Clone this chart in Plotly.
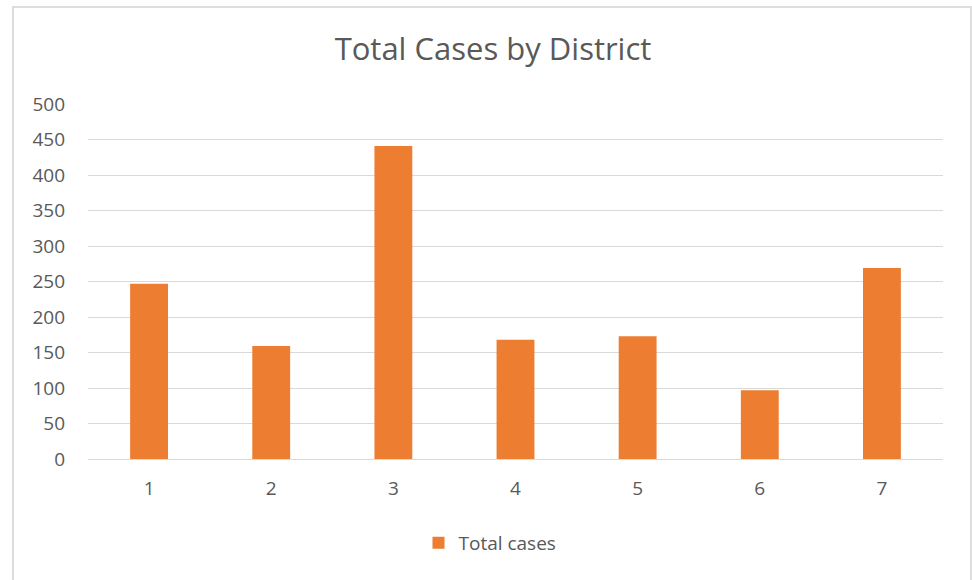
import plotly.graph_objects as go

districts = ["1", "2", "3", "4", "5", "6", "7"]
total_cases = [247, 159, 441, 168, 173, 97, 269]
y_ticks = [0, 50, 100, 150, 200, 250, 300, 350, 400, 450, 500]

W, H = 972, 580
L, R, T, B = 88, 29, 104, 121
pw = W - L - R
ph = H - T - B

FONT = "Open Sans, Noto Sans, sans-serif"
GREY = "#595959"

fig = go.Figure()
fig.add_trace(go.Bar(
    x=districts, y=total_cases, name="Total cases",
    marker=dict(color="#ED7D31", line=dict(width=0)),
    showlegend=True,
))

def px_x(p):
    return (p - L) / pw

def px_y(p):
    return (H - B - p) / ph

fig.update_layout(
    width=W, height=H,
    margin=dict(l=L, r=R, t=T, b=B),
    paper_bgcolor="white", plot_bgcolor="white",
    bargap=0.69,
    font=dict(family=FONT, color=GREY, size=19),
    title=dict(text="Total Cases by District", x=493 / W, xanchor="center",
               y=1 - 49 / H, yanchor="middle",
               font=dict(size=31, color=GREY, family=FONT)),
    xaxis=dict(type="category", showgrid=False, showline=True, linecolor="#D9D9D9",
               linewidth=1, ticks="", tickfont=dict(size=19, color=GREY),
               ticklabelstandoff=12),
    yaxis=dict(range=[0, 500], tickvals=y_ticks, showgrid=True, gridcolor="#D9D9D9",
               gridwidth=1, zeroline=False, showline=False, ticks="",
               tickfont=dict(size=19, color=GREY), ticklabelstandoff=22),
    legend=dict(orientation="h", x=px_x(490), xanchor="center", y=px_y(543),
                yanchor="middle", font=dict(size=19, color=GREY),
                itemwidth=30),
    shapes=[dict(type="rect", xref="paper", yref="paper",
                 x0=px_x(13), x1=px_x(971), y0=px_y(620), y1=px_y(7),
                 line=dict(color="#DDDDDD", width=2), layer="below")],
)

fig.write_html("out.html", config={"displayModeBar": False},
               post_script="document.body.style.margin='0';")
